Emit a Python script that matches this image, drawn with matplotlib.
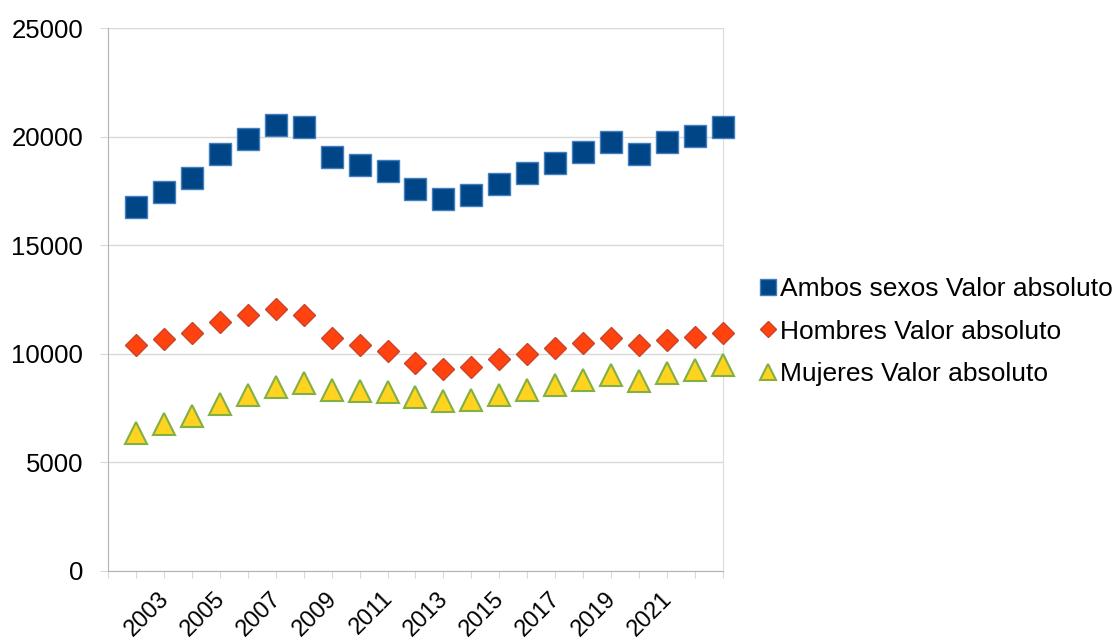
import numpy as np
import matplotlib
matplotlib.use("Agg")
import matplotlib.pyplot as plt
from matplotlib.transforms import ScaledTranslation

plt.rcParams["font.family"] = ["Liberation Sans", "DejaVu Sans"]

# yearly counts
years = list(range(2002, 2024))
ambos = [16760, 17452, 18111, 19189, 19908, 20553, 20447, 19078, 18696, 18406, 17613,
         17115, 17313, 17834, 18313, 18802, 19295, 19770, 19189, 19756, 20046, 20447]
hombres = [10401, 10691, 10968, 11475, 11783, 12046, 11783, 10710, 10415, 10124, 9585,
           9309, 9401, 9742, 9972, 10249, 10507, 10737, 10401, 10631, 10783, 10940]
mujeres = [6346, 6747, 7138, 7696, 8106, 8488, 8650, 8341, 8295, 8258, 7995,
           7820, 7889, 8097, 8327, 8558, 8779, 9018, 8756, 9124, 9272, 9479]

labels = ["Ambos sexos Valor absoluto", "Hombres Valor absoluto", "Mujeres Valor absoluto"]
year_labels = [str(y) for y in range(2003, 2022, 2)]

fig = plt.figure(figsize=(11.16, 6.44), dpi=100)
ax = fig.add_axes([0.0970, 0.1138, 0.5505, 0.8422])

ax.plot(years, ambos, ls="none", marker="s", ms=15.5, mfc="#004586", mec="#3f7fbf",
        mew=1.0, label=labels[0], zorder=3, clip_on=False)
ax.plot(years, hombres, ls="none", marker="D", ms=11, mfc="#ff420e", mec="#c8452a",
        mew=1.0, label=labels[1], zorder=3, clip_on=False)
ax.plot(years, mujeres, ls="none", marker="^", ms=15.5, mfc="#ffd320", mec="#83b042",
        mew=1.5, label=labels[2], zorder=3, clip_on=False)

ax.set_ylim(0, 25000)
ax.set_yticks(np.arange(0, 25001, 5000))
ax.set_xlim(2001, 2023)
ax.set_xticks(range(2001, 2024))

ax.grid(axis="y", color="#d9d9d9", lw=1)
ax.set_axisbelow(True)
for side in ["left", "bottom"]:
    ax.spines[side].set_color("#b3b3b3")
ax.spines["right"].set_color("#dcdcdc")
ax.spines["top"].set_visible(False)

ax.tick_params(axis="y", length=6, color="#d9d9d9", pad=12, labelsize=18.5)
ax.tick_params(axis="x", length=5, color="#d9d9d9", pad=7, labelsize=17)

ax.set_xticklabels([str(y) if str(y) in year_labels else "" for y in range(2001, 2024)],
                   rotation=45, ha="right", va="top", rotation_mode="anchor")
# nudge the slanted year labels a little to the left
shift = ScaledTranslation(-0.06, 0, fig.dpi_scale_trans)
for lbl in ax.xaxis.get_majorticklabels():
    lbl.set_transform(lbl.get_transform() + shift)

leg = fig.legend(loc="center left", bbox_to_anchor=(0.672, 0.485), frameon=False,
                 fontsize=19, markerscale=0.75, handlelength=0.6, handletextpad=0.15,
                 labelspacing=0.7, borderaxespad=0)

fig.savefig("out.png", dpi=100)
